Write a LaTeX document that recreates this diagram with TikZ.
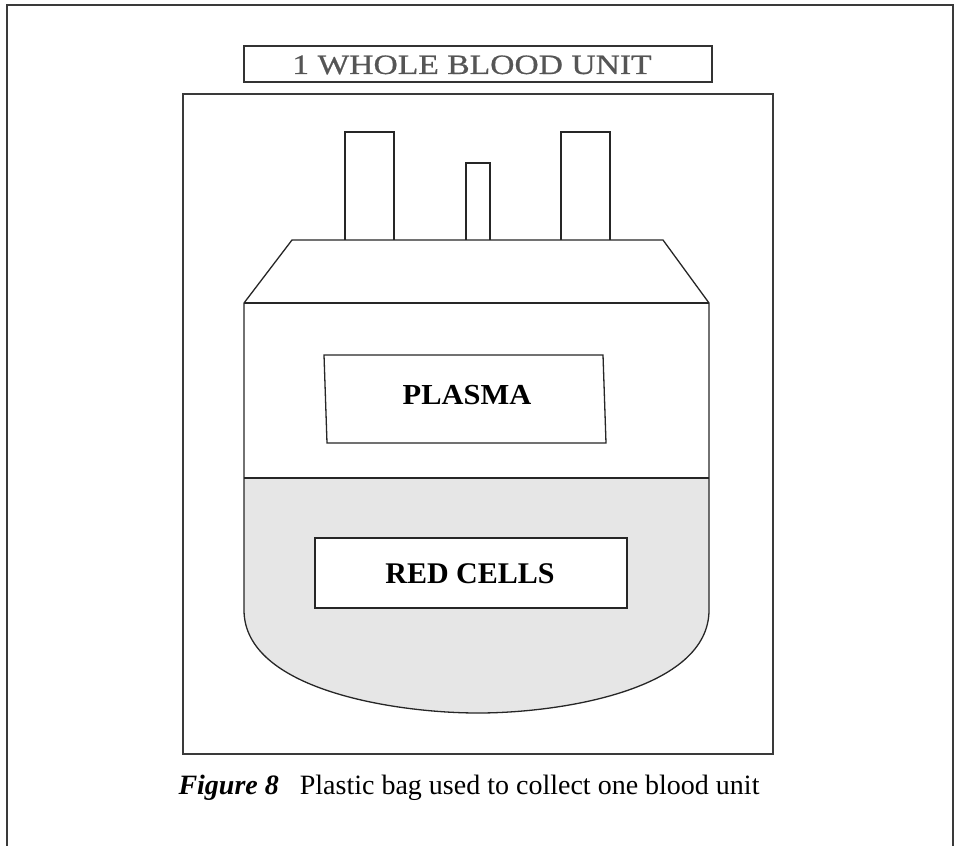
\documentclass[tikz,border=0pt]{standalone}
\usepackage{fontspec}
\setmainfont{Liberation Serif}
\newfontfamily\titlefont[FakeBold=0.6]{Liberation Serif}
\definecolor{titlegray}{HTML}{555555}
\definecolor{cellfill}{HTML}{E6E6E6}
\definecolor{framegray}{HTML}{3A3A3A}
\begin{document}
\begin{tikzpicture}[x=1pt,y=-1pt,
  frame/.style={draw=framegray,line width=1.6pt},
  outline/.style={draw=black!85,line width=1.3pt},
  label/.style={inner sep=0pt,anchor=base,font=\fontsize{29}{32}\selectfont\bfseries},
  labelbox/.style={outline,fill=white}]
\useasboundingbox (0,0) rectangle (957,845);
% outer frame (bottom edge lies beyond the picture)
\draw[frame] (7,850) -- (7,5) -- (953,5) -- (953,850);
% title
\node[outline,draw=black!80,line width=1.1pt,minimum width=468pt,minimum height=36pt,inner sep=0pt] (titlebox) at (478,64) {};
\node[inner sep=0pt,anchor=base,text=titlegray,font=\titlefont\fontsize{28}{30}\selectfont] (title) at (472,74) {\scalebox{1.2}[1]{1 WHOLE BLOOD UNIT}};
% inner frame
\draw[frame] (183,94) rectangle (773,754);
% red cell fill
\fill[cellfill] (244,478) -- (709,478) -- (709,610) .. controls (709,690) and (560,713) .. (478,713)
  .. controls (396,713) and (244,690) .. (244,610) -- cycle;
% tubes
\draw[outline] (345,240) -- (345,132) -- (394,132) -- (394,240);
\draw[outline] (466,240) -- (466,163) -- (490,163) -- (490,240);
\draw[outline] (561,240) -- (561,132) -- (610,132) -- (610,240);
% bag outline
\draw[outline] (292,240) -- (663,240) -- (709,303) -- (709,610) .. controls (709,690) and (560,713) .. (478,713)
  .. controls (396,713) and (244,690) .. (244,610) -- (244,303) -- cycle;
\draw[outline] (244,303) -- (709,303);
\draw[outline] (244,478) -- (709,478);
% plasma label box
\draw[labelbox] (324,355) -- (603,355) -- (606,443) -- (327,443) -- cycle;
\node[label] (plasma) at (467,404) {\scalebox{1.05}[1]{PLASMA}};
% red cells label box
\draw[labelbox] (315,538) rectangle (627,608);
\node[label,font=\fontsize{30}{32}\selectfont\bfseries] (redcells) at (470,583) {RED CELLS};
% caption
\node[inner sep=0pt,anchor=base,font=\fontsize{28}{30}\selectfont] (caption) at (469,794)
  {\textbf{\textit{Figure 8}}\hspace{0.5em} Plastic bag used to collect one blood unit};
\end{tikzpicture}
\end{document}
